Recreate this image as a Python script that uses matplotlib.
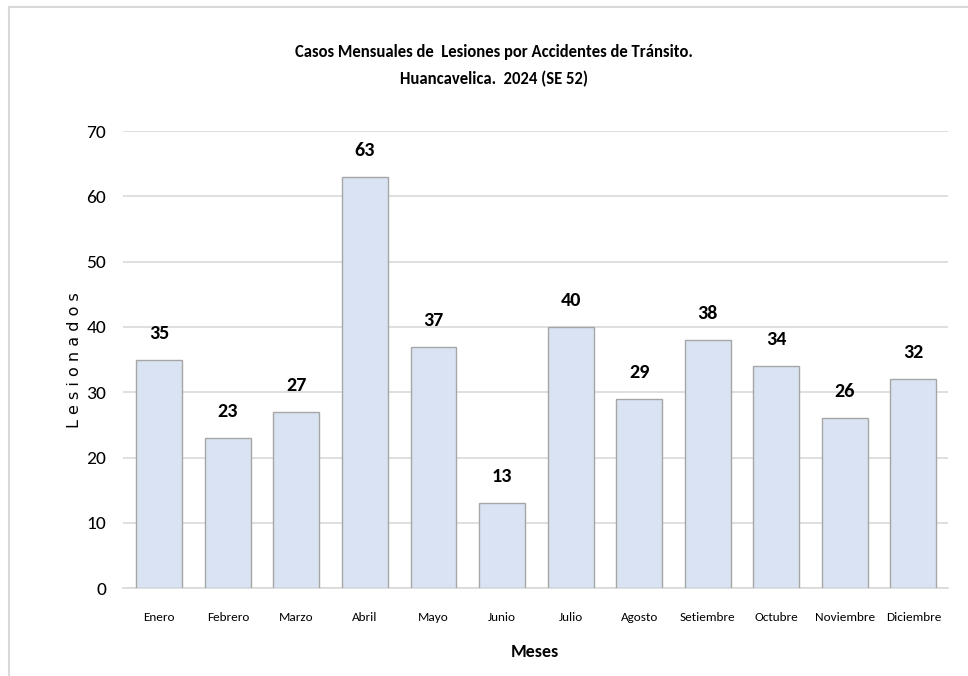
import matplotlib.pyplot as plt
from matplotlib import font_manager
from matplotlib.lines import Line2D

months = ["Enero", "Febrero", "Marzo", "Abril", "Mayo", "Junio", "Julio",
          "Agosto", "Setiembre", "Octubre", "Noviembre", "Diciembre"]
cases = [35, 23, 27, 63, 37, 13, 40, 29, 38, 34, 26, 32]
yticks = [0, 10, 20, 30, 40, 50, 60, 70]

# pick a Calibri-like font if one is installed
names = {f.name for f in font_manager.fontManager.ttflist}
narrow = "DejaVu Sans"
for cand in ["Carlito", "Liberation Sans Narrow", "DejaVu Sans Condensed", "Roboto Condensed", "Lato"]:
    if cand in names:
        narrow = cand
        break
plt.rcParams['font.family'] = [narrow, 'DejaVu Sans']

fig = plt.figure(figsize=(9.68, 6.76), dpi=100)
ax = fig.add_axes([0.127, 0.130, 0.852, 0.676])

x = range(len(months))
ax.bar(x, cases, width=0.67, color="#DAE3F3", edgecolor="#A6A6A6", linewidth=1, zorder=3)

for i, v in enumerate(cases):
    ax.annotate(str(v), (i, v), xytext=(0, 13), textcoords="offset points",
                ha="center", va="bottom", fontsize=14.5, fontweight="bold")

ax.set_xlim(-0.53, 11.5)
ax.set_ylim(0, 70)
ax.set_yticks(yticks)
ax.set_xticks(list(x))
ax.set_xticklabels(months, fontsize=9.5)
ax.tick_params(axis="y", labelsize=14, length=0, pad=12)
ax.tick_params(axis="x", length=0, pad=17)
ax.grid(axis="y", color="#D9D9D9", linewidth=1.2, zorder=0)
for s in ["top", "right", "left"]:
    ax.spines[s].set_visible(False)
ax.spines["bottom"].set_color("#D9D9D9")
ax.spines["bottom"].set_linewidth(1.2)

ax.set_ylabel("L e s i o n a d o s", fontsize=11.5, family="DejaVu Sans", labelpad=3)
ax.set_xlabel("Meses", fontsize=13, fontweight="bold", labelpad=15)

fig.text(0.51, 0.923, "Casos Mensuales de  Lesiones por Accidentes de Tránsito.",
         ha="center", va="center", fontsize=12, fontweight="bold")
fig.text(0.51, 0.883, "Huancavelica.  2024 (SE 52)",
         ha="center", va="center", fontsize=12, fontweight="bold")

# outer frame
fig.add_artist(Line2D([9 / 968, 1], [1 - 7 / 676, 1 - 7 / 676], color="#D9D9D9", linewidth=1.5))
fig.add_artist(Line2D([9 / 968, 9 / 968], [0, 1 - 7 / 676], color="#D9D9D9", linewidth=1.5))

fig.savefig("out.png", dpi=100)
